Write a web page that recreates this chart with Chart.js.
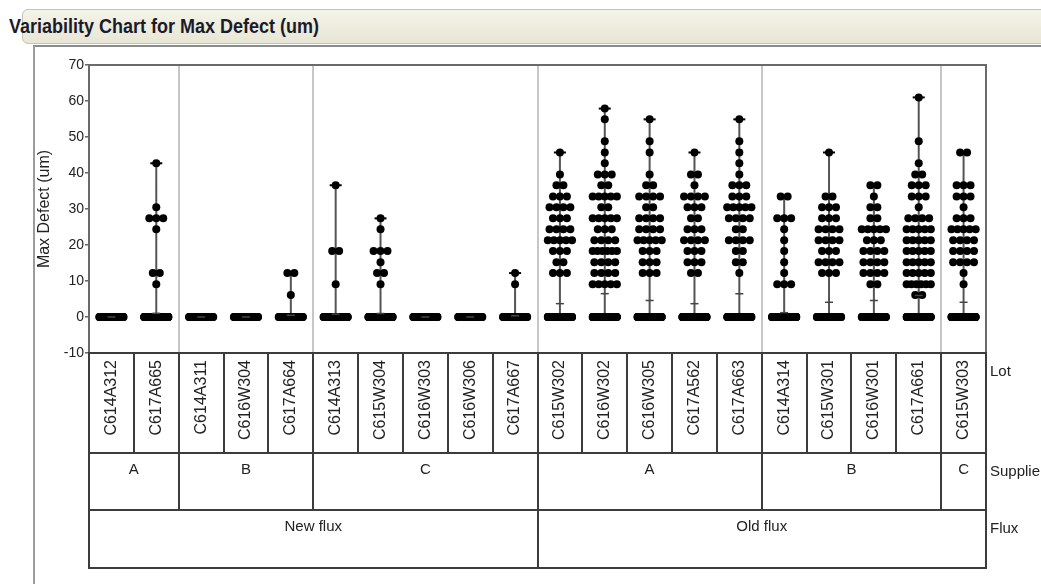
<!DOCTYPE html>
<html>
<head>
<meta charset="utf-8">
<title>Variability Chart for Max Defect (um)</title>
<script src="https://cdn.jsdelivr.net/npm/chart.js@4.4.1/dist/chart.umd.min.js"></script>
<style>
  html, body { margin: 0; padding: 0; background: #fff; }
  body { width: 1041px; height: 584px; position: relative; overflow: hidden; font-family: "Liberation Sans", Arial, sans-serif; }
  .titlebar { position: absolute; left: 22px; top: 9px; right: -8px; height: 33px;
    background: linear-gradient(#f4f3e8, #e8e6d5); border: 1px solid #c4c3b6; border-radius: 6px; }
  .title { position: absolute; left: 9px; top: 15px; font-weight: bold; font-size: 20px; color: #1b1b2b;
    transform: scaleX(0.9); transform-origin: left top; white-space: nowrap; }
  .panel { position: absolute; left: 33px; top: 45px; right: -4px; bottom: -4px;
    border-left: 2px solid #9c9c9c; border-top: 2px solid #8c8c8c; }
  #chart { position: absolute; left: 0; top: 0; }
</style>
</head>
<body>
<div class="titlebar"></div>
<div class="title">Variability Chart for Max Defect (um)</div>
<div class="panel"></div>
<canvas id="chart" width="1041" height="584"></canvas>
<script>
(() => {
    // Lots, grouped by supplier and flux
    const lots = ['C614A312', 'C617A665', 'C614A311', 'C616W304', 'C617A664',
                  'C614A313', 'C615W304', 'C616W303', 'C616W306', 'C617A667',
                  'C615W302', 'C616W302', 'C616W305', 'C617A562', 'C617A663',
                  'C614A314', 'C615W301', 'C616W301', 'C617A661', 'C615W303'];
    const suppliers = ['A', 'A', 'B', 'B', 'B', 'C', 'C', 'C', 'C', 'C',
                       'A', 'A', 'A', 'A', 'A', 'B', 'B', 'B', 'B', 'C'];
    const fluxes = ['New flux', 'New flux', 'New flux', 'New flux', 'New flux',
                    'New flux', 'New flux', 'New flux', 'New flux', 'New flux',
                    'Old flux', 'Old flux', 'Old flux', 'Old flux', 'Old flux',
                    'Old flux', 'Old flux', 'Old flux', 'Old flux', 'Old flux'];

    // Max defect readings (um) come in discrete levels
    const levels = [0, 6.1, 9.1, 12.2, 15.2, 18.3, 21.3, 24.4, 27.4, 30.5,
                    33.5, 36.6, 39.6, 42.7, 45.7, 48.8, 51.8, 54.9, 57.9, 61.0];

    // number of readings at each level, one row per lot
    const countsByLot = [
        [80, 0, 0, 0, 0, 0, 0, 0, 0, 0, 0, 0, 0, 0, 0, 0, 0, 0, 0, 0],
        [200, 0, 1, 2, 0, 0, 0, 1, 3, 1, 0, 0, 0, 1, 0, 0, 0, 0, 0, 0],
        [60, 0, 0, 0, 0, 0, 0, 0, 0, 0, 0, 0, 0, 0, 0, 0, 0, 0, 0, 0],
        [70, 0, 0, 0, 0, 0, 0, 0, 0, 0, 0, 0, 0, 0, 0, 0, 0, 0, 0, 0],
        [60, 1, 0, 2, 0, 0, 0, 0, 0, 0, 0, 0, 0, 0, 0, 0, 0, 0, 0, 0],
        [100, 0, 1, 0, 0, 2, 0, 0, 0, 0, 0, 1, 0, 0, 0, 0, 0, 0, 0, 0],
        [150, 0, 1, 2, 1, 3, 0, 1, 1, 0, 0, 0, 0, 0, 0, 0, 0, 0, 0, 0],
        [90, 0, 0, 0, 0, 0, 0, 0, 0, 0, 0, 0, 0, 0, 0, 0, 0, 0, 0, 0],
        [60, 0, 0, 0, 0, 0, 0, 0, 0, 0, 0, 0, 0, 0, 0, 0, 0, 0, 0, 0],
        [60, 0, 1, 1, 0, 0, 0, 0, 0, 0, 0, 0, 0, 0, 0, 0, 0, 0, 0, 0],
        [182, 0, 0, 3, 2, 3, 5, 4, 3, 4, 3, 2, 1, 0, 1, 0, 0, 0, 0, 0],
        [142, 0, 5, 4, 4, 6, 4, 3, 5, 2, 5, 2, 3, 1, 1, 1, 0, 1, 1, 0],
        [164, 0, 0, 3, 3, 3, 5, 4, 4, 2, 4, 2, 1, 0, 1, 1, 0, 1, 0, 0],
        [168, 0, 0, 2, 3, 3, 4, 3, 2, 3, 4, 1, 2, 0, 1, 0, 0, 0, 0, 0],
        [111, 0, 0, 1, 2, 2, 4, 2, 4, 5, 3, 3, 1, 1, 1, 1, 0, 1, 0, 0],
        [210, 0, 3, 1, 1, 1, 1, 1, 3, 0, 2, 0, 0, 0, 0, 0, 0, 0, 0, 0],
        [125, 0, 0, 3, 4, 3, 4, 4, 3, 3, 2, 0, 0, 0, 1, 0, 0, 0, 0, 0],
        [104, 0, 2, 4, 4, 4, 3, 5, 2, 2, 1, 2, 0, 0, 0, 0, 0, 0, 0, 0],
        [136, 2, 6, 5, 5, 5, 5, 5, 4, 1, 3, 3, 2, 1, 0, 1, 0, 0, 0, 1],
        [159, 0, 1, 1, 4, 4, 4, 5, 3, 1, 3, 3, 0, 0, 2, 0, 0, 0, 0, 0]
    ];

    const yTicks = [-10, 0, 10, 20, 30, 40, 50, 60, 70];

    const FONT = '"Liberation Sans", Arial, sans-serif';
    Chart.defaults.font.family = FONT;
    Chart.defaults.color = '#222';

    // jitter: points sharing a level are spread side by side (max +/- 0.27 of a lot width)
    function spread(n) {
        const step = Math.min(0.155, 0.54 / Math.max(n - 1, 1));
        return Array.from({ length: n }, (_, k) => (k - (n - 1) / 2) * step);
    }

    const pontos = [], faixas = [], maximos = [], medias = [];
    countsByLot.forEach((counts, i) => {
        const cx = i + 0.5;
        let soma = 0, n = 0, min = Infinity, max = -Infinity;
        counts.forEach((c, j) => {
            if (!c) return;
            const v = levels[j];
            spread(c).forEach(dx => pontos.push({ x: cx + dx, y: v }));
            soma += v * c; n += c;
            min = Math.min(min, v); max = Math.max(max, v);
        });
        if (max > min) {
            faixas.push({ x: cx, y: min }, { x: cx, y: max }, { x: cx, y: null });
            maximos.push({ x: cx, y: max });
        }
        medias.push({ x: cx, y: soma / n });
    });

    // consecutive runs of equal keys -> group cells of the table
    function runs(keyFn, labelFn) {
        const out = [];
        lots.forEach((_, i) => {
            const k = keyFn(i);
            const last = out[out.length - 1];
            if (last && last.key === k) last.end = i + 1;
            else out.push({ key: k, label: labelFn(i), start: i, end: i + 1 });
        });
        return out;
    }
    const supplierRuns = runs(i => fluxes[i] + '|' + suppliers[i], i => suppliers[i]);
    const fluxRuns = runs(i => fluxes[i], i => fluxes[i]);

    const tabela = {
        id: 'tabela',
        beforeDatasetsDraw(chart) {
            const { ctx, chartArea, scales: { x } } = chart;
            ctx.save();
            ctx.strokeStyle = '#c6c6c6';
            ctx.lineWidth = 2;
            supplierRuns.slice(1).forEach(r => {
                const px = Math.round(x.getPixelForValue(r.start));
                ctx.beginPath(); ctx.moveTo(px, chartArea.top); ctx.lineTo(px, chartArea.bottom); ctx.stroke();
            });
            ctx.restore();
        },
        afterDraw(chart) {
            const { ctx, chartArea, scales } = chart;
            ctx.save();
            ctx.strokeStyle = '#6a6a6a';
            ctx.lineWidth = 2;
            ctx.strokeRect(chartArea.left, chartArea.top, chartArea.right - chartArea.left, chartArea.bottom - chartArea.top);

            const linhas = [
                { scale: scales.x, bounds: lots.map((_, i) => i).slice(1), label: 'Lot' },
                { scale: scales.xs, bounds: supplierRuns.slice(1).map(r => r.start), label: 'Supplier' },
                { scale: scales.xf, bounds: fluxRuns.slice(1).map(r => r.start), label: 'Flux' }
            ];
            ctx.strokeStyle = '#3c3c3c';
            ctx.fillStyle = '#222';
            ctx.font = '15px ' + FONT;
            ctx.textBaseline = 'middle';
            ctx.textAlign = 'left';
            linhas.forEach(l => {
                const s = l.scale;
                ctx.strokeRect(chartArea.left, s.top, chartArea.right - chartArea.left, s.bottom - s.top);
                l.bounds.forEach(b => {
                    const px = Math.round(s.getPixelForValue(b));
                    ctx.beginPath(); ctx.moveTo(px, s.top); ctx.lineTo(px, s.bottom); ctx.stroke();
                });
                ctx.fillText(l.label, chartArea.right + 4, s.top + 19);
            });
            ctx.restore();
        }
    };

    function eixoGrupo(grupos, peso, altura) {
        return {
            type: 'linear', min: 0, max: lots.length, position: 'bottom', weight: peso,
            afterBuildTicks: s => { s.ticks = grupos.map(g => ({ value: (g.start + g.end) / 2 })); },
            afterFit: s => { s.height = altura; },
            ticks: { autoSkip: false, maxRotation: 0, padding: 8, font: { size: 15 }, color: '#222',
                     callback: (v, i) => grupos[i].label },
            grid: { display: false, drawTicks: false },
            border: { display: false }
        };
    }

    new Chart(document.getElementById('chart'), {
        type: 'scatter',
        data: {
            datasets: [
                { type: 'line', data: faixas, borderColor: '#555', borderWidth: 2, pointRadius: 0, spanGaps: false, order: 3 },
                { data: pontos, backgroundColor: '#000', borderWidth: 0, pointRadius: 4, order: 2 },
                { data: maximos, pointStyle: 'line', pointRadius: 6, borderColor: '#000', borderWidth: 2, order: 1 },
                { data: medias, pointStyle: 'line', pointRadius: 4, borderColor: '#444', borderWidth: 1.5, order: 1 }
            ]
        },
        options: {
            responsive: false,
            animation: false,
            devicePixelRatio: 1,
            layout: { padding: { left: 33, top: 65, right: 55, bottom: 16 } },
            plugins: { legend: { display: false }, tooltip: { enabled: false } },
            scales: {
                y: {
                    type: 'linear', min: -10, max: 70, position: 'left',
                    afterBuildTicks: s => { s.ticks = yTicks.map(v => ({ value: v })); },
                    afterFit: s => { s.width = 56; },
                    ticks: { font: { size: 14 }, color: '#222', padding: 1 },
                    grid: { drawOnChartArea: false, tickLength: 4, color: '#666', lineWidth: 1.5 },
                    border: { color: '#6a6a6a', width: 2 },
                    title: { display: true, text: 'Max Defect (um)', font: { size: 16 }, color: '#222', padding: { top: 2, bottom: 0 } }
                },
                x: {
                    type: 'linear', min: 0, max: lots.length, position: 'bottom', weight: 0,
                    afterBuildTicks: s => { s.ticks = lots.map((_, i) => ({ value: i + 0.5 })); },
                    afterFit: s => { s.height = 100; },
                    ticks: { autoSkip: false, minRotation: 90, maxRotation: 90, padding: 7, font: { size: 16 }, color: '#222',
                             callback: (v, i) => lots[i] },
                    grid: { display: false, drawTicks: false },
                    border: { display: false }
                },
                xs: eixoGrupo(supplierRuns, 1, 57),
                xf: eixoGrupo(fluxRuns, 2, 58)
            }
        },
        plugins: [tabela]
    });
})();
</script>
</body>
</html>
